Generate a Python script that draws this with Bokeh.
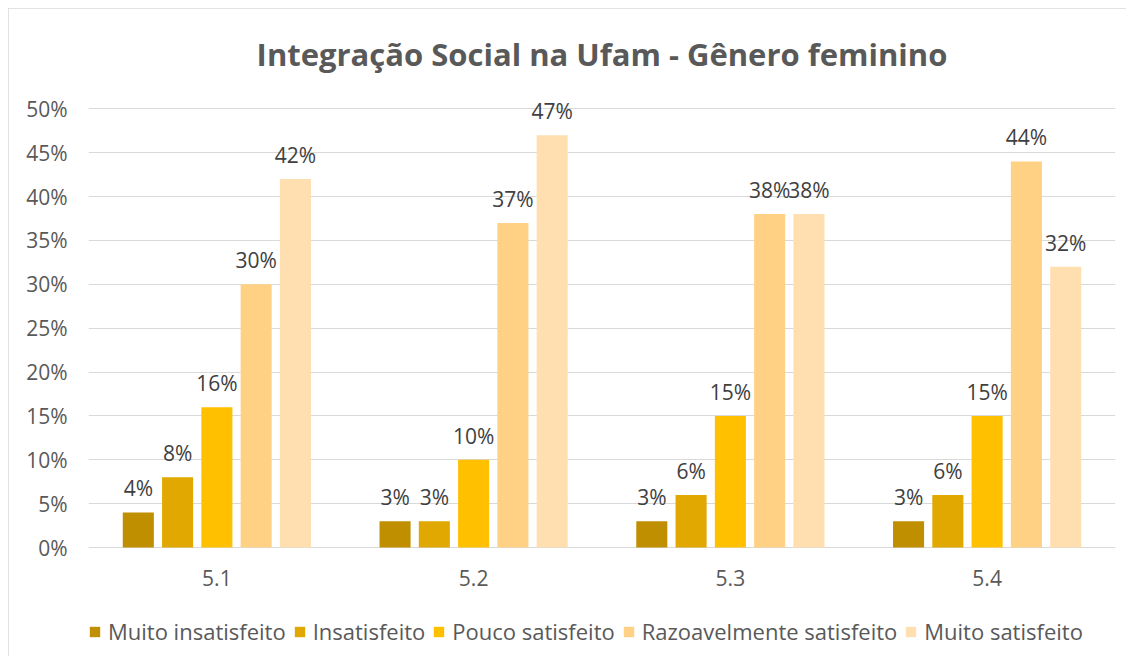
from bokeh.plotting import figure
from bokeh.models import ColumnDataSource, Legend, LegendItem, FixedTicker, NumeralTickFormatter, Range1d
from bokeh.transform import dodge
from bokeh.embed import file_html
from bokeh.resources import INLINE
from bokeh.core.properties import value

categories = ["5.1", "5.2", "5.3", "5.4"]
series_names = ["Muito insatisfeito", "Insatisfeito", "Pouco satisfeito",
                "Razoavelmente satisfeito", "Muito satisfeito"]
muito_insatisfeito = [0.04, 0.03, 0.03, 0.03]
insatisfeito = [0.08, 0.03, 0.06, 0.06]
pouco_satisfeito = [0.16, 0.10, 0.15, 0.15]
razoavelmente_satisfeito = [0.30, 0.37, 0.38, 0.44]
muito_satisfeito = [0.42, 0.47, 0.38, 0.32]
series_values = [muito_insatisfeito, insatisfeito, pouco_satisfeito,
                 razoavelmente_satisfeito, muito_satisfeito]
colors = ["#BF8F00", "#E0A800", "#FFC000", "#FFD185", "#FFDFB0"]
y_ticks = [0, 0.05, 0.10, 0.15, 0.20, 0.25, 0.30, 0.35, 0.40, 0.45, 0.50]
title_text = "Integração Social na Ufam - Gênero feminino"

FONT = "Open Sans"
data = {"cat": categories, "zero": [0] * len(categories)}
for i, vals in enumerate(series_values):
    data[f"s{i}"] = vals
    data[f"l{i}"] = [f"{round(v*100)}%" for v in vals]
src = ColumnDataSource(data)

# frame spans from 0.53 (top) down to below zero, leaving room for category labels + legend
p = figure(x_range=categories, y_range=Range1d(-0.1219, 0.53), width=1118, height=648,
           output_backend="svg", toolbar_location=None,
           min_border_left=80, min_border_right=11, min_border_top=74, min_border_bottom=2)
p.styles = {"outline": "1px solid #D9D9D9", "outline-offset": "-1px",
            "margin-left": "8px", "margin-top": "8px"}

p.title.text = title_text
p.title.align = "center"
p.title.text_font = "Open Sans"
p.title.text_font_style = "bold"
p.title.text_font_size = "31px"
p.title.text_color = "#595959"
p.title.standoff = 16

step = 0.153
width = 0.121
items = []
for i in range(5):
    off = (i - 2) * step
    r = p.vbar(x=dodge("cat", off, range=p.x_range), top=f"s{i}", width=width,
               source=src, fill_color=colors[i], line_color=None)
    p.text(x=dodge("cat", off, range=p.x_range), y=f"s{i}", text=f"l{i}", source=src,
           text_align="center", text_baseline="middle", y_offset=-24,
           text_font=value(FONT), text_font_size="21px", text_color="#404040")
    items.append(LegendItem(label=series_names[i], renderers=[r]))

# category labels under the zero line
p.text(x="cat", y="zero", text="cat", source=src, text_align="center",
       text_baseline="middle", y_offset=30, text_font=value(FONT),
       text_font_size="21px", text_color="#595959")

legend = Legend(items=items, orientation="horizontal", location=(0, 8),
                label_text_font=FONT, label_text_font_size="22px", label_text_color="#595959",
                glyph_width=13, glyph_height=13, label_standoff=7, spacing=7,
                border_line_color=None, background_fill_alpha=0, margin=0, padding=0)
p.add_layout(legend, "center")

p.yaxis.ticker = FixedTicker(ticks=y_ticks)
p.yaxis.formatter = NumeralTickFormatter(format="0%")
p.yaxis.axis_line_color = None
p.yaxis.major_tick_line_color = None
p.yaxis.minor_tick_line_color = None
p.yaxis.major_label_standoff = 15
p.yaxis.major_label_text_font = FONT
p.yaxis.major_label_text_font_size = "21px"
p.yaxis.major_label_text_color = "#595959"

p.xaxis.visible = False

p.xgrid.grid_line_color = None
p.ygrid.ticker = FixedTicker(ticks=y_ticks)
p.ygrid.grid_line_color = "#D9D9D9"
p.outline_line_color = None
p.x_range.range_padding = 0

open("out.html", "w").write(file_html(p, INLINE))
